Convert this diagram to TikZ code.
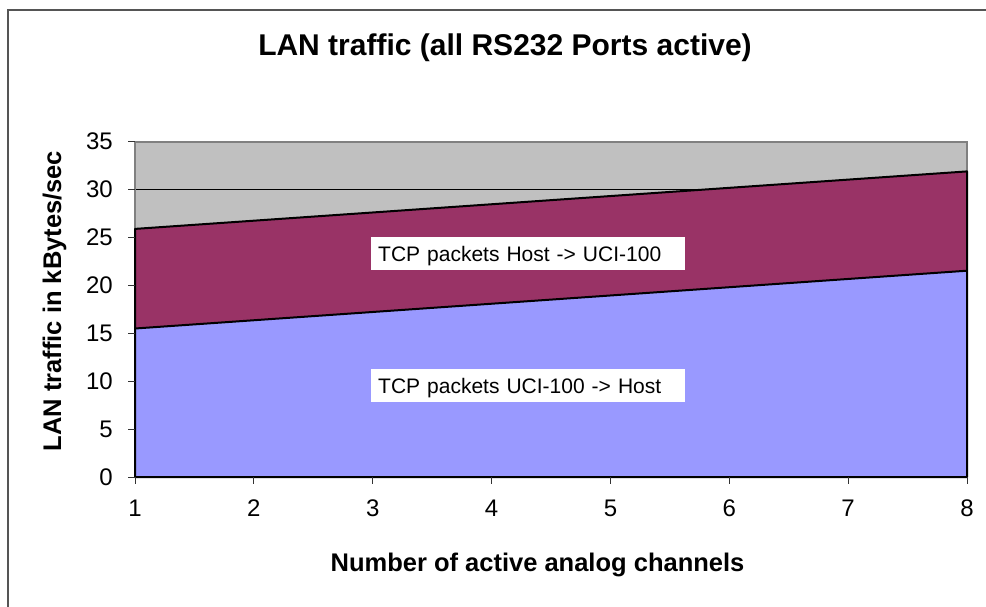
\documentclass[tikz,border=0pt]{standalone}
\usepackage{fontspec}
\setmainfont{Liberation Sans}
\definecolor{areagray}{HTML}{C0C0C0}
\definecolor{areapurple}{HTML}{993366}
\definecolor{areablue}{HTML}{9999FF}
\definecolor{bordergray}{HTML}{808080}
\definecolor{framegray}{HTML}{555555}
\tikzset{
  ticklab/.style={inner sep=0pt, font=\fontsize{24}{28}\selectfont},
  axislab/.style={inner sep=0pt, font=\fontsize{25.5}{30}\bfseries},
  titlelab/.style={inner sep=0pt, font=\fontsize{30}{36}\bfseries},
  seriesbox/.style={fill=white, inner xsep=7pt, inner ysep=4pt, text width=300pt, align=left,
    text height=21pt, text depth=4.2pt, anchor=west, font=\fontsize{21}{25}\selectfont},
  serieslines/.style={draw=black, line width=2pt, line join=round},
  tickmark/.style={draw=black!80, line width=1pt},
}
\begin{document}
\begin{tikzpicture}[x=1pt,y=-1pt]
\useasboundingbox (0,0) rectangle (986,606);
% outer frame (only top and left visible)
\draw[framegray, line width=1.5pt] (8,620) -- (8,10) -- (1000,10);
% plot corners
\coordinate (pTL) at (135,141.7);
\coordinate (pBR) at (967,477);
\coordinate (pTR) at (967,141.7);
\coordinate (pBL) at (135,477);
% plot background (gray series top band) and border
\fill[areagray] (pTL) rectangle (pBR);
\draw[black, line width=0.9pt] (135,189.6) -- (967,189.6);
\draw[bordergray, line width=2pt] (pBL) -- (pTL) -- (pTR) -- (pBR);
% series data points
\coordinate (u1) at (135,228.9);
\coordinate (u8) at (967,171.4);
\coordinate (l1) at (135,328.5);
\coordinate (l8) at (967,270.7);
% purple area
\fill[areapurple] (u1) -- (u8) -- (l8) -- (l1) -- cycle;
% blue area
\fill[areablue] (l1) -- (l8) -- (pBR) -- (pBL) -- cycle;
% series outlines
\draw[serieslines] (u1) -- (u8) -- (pBR) -- (pBL) -- cycle;
\draw[serieslines] (l1) -- (l8);
% y ticks and labels
\foreach \v/\yy in {0/477,5/429.1,10/381.2,15/333.3,20/285.4,25/237.5,30/189.6,35/141.7}{
  \draw[tickmark] (128,\yy) -- (135,\yy);
  \node[ticklab, anchor=east] (y\v) at (113,\yy) {\v};
}
% x ticks and labels
\foreach \i/\xx in {1/135,2/253.86,3/372.71,4/491.57,5/610.43,6/729.29,7/848.14,8/967}{
  \draw[tickmark] (\xx,477) -- (\xx,484);
  \node[ticklab, anchor=north] (x\i) at (\xx,500) {\i};
}
% series labels
\node[seriesbox] (lab1) at (371,253.3) {TCP packets Host -> UCI-100};
\node[seriesbox] (lab2) at (371,385.3) {TCP packets UCI-100 -> Host};
% titles
\node[titlelab, anchor=base] (title) at (505,55) {LAN traffic (all RS232 Ports active)};
\node[axislab, anchor=base] (xlabel) at (537.5,571) {Number of active analog channels};
\node[axislab, anchor=base, rotate=90] (ylabel) at (61,301) {LAN traffic in kBytes/sec};
\end{tikzpicture}
\end{document}
